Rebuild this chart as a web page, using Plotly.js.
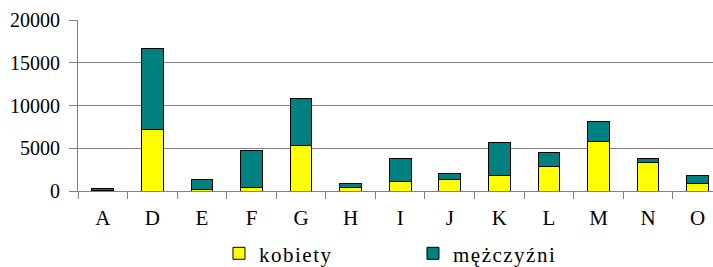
<!DOCTYPE html>
<html>
<head>
<meta charset="utf-8">
<script src="https://cdn.plot.ly/plotly-3.0.1.min.js"></script>
<style>
@font-face { font-family: "LibSerifLocal"; src: local("Liberation Serif"), local("LiberationSerif"), local("Times New Roman"); }
html, body { margin:0; padding:0; background:#fff; overflow:hidden; }
#fontwarm { position:absolute; left:0; top:0; font-family:"Liberation Serif",serif; font-size:20px; }
#chart svg text { font-family: "Liberation Serif", "LibSerifLocal", "Times New Roman", serif !important; }
#chart .legendtext { letter-spacing:1.5px; }
</style>
</head>
<body>
<div id="fontwarm">&nbsp;</div>
<div id="chart" style="width:713px;height:267px;"></div>
<script>
var categories = ["A","D","E","F","G","H","I","J","K","L","M","N","O"];
var kobiety = [50, 7200, 200, 430, 5350, 400, 1100, 1300, 1800, 2900, 5800, 3350, 900];
var mezczyzni = [200, 9500, 1170, 4250, 5450, 500, 2700, 700, 3850, 1600, 2350, 450, 950];
var yTickStep = 5000;
var yMax = 20000;
var seriesNames = ["kobiety", "m\u0119\u017Cczy\u017Ani"];

var FONT = "Liberation Serif, LibSerifLocal, serif";
var drawn = false;
function draw() {
  if (drawn) return; drawn = true;
  var traces = [
    {type:"bar", name:seriesNames[0], x:categories, y:kobiety,
     marker:{color:"#FFFF00", line:{color:"#000000", width:1}}},
    {type:"bar", name:seriesNames[1], x:categories, y:mezczyzni,
     marker:{color:"#008080", line:{color:"#000000", width:1}}}
  ];
  var layout = {
    width:713, height:267,
    margin:{l:78, r:0, t:20, b:76, autoexpand:false},
    paper_bgcolor:"#ffffff", plot_bgcolor:"#ffffff",
    barmode:"stack", bargap:0.56,
    showlegend:true,
    font:{family:FONT, size:20, color:"#000000"},
    xaxis:{type:"category", range:[-0.5, 12.31], tickson:"boundaries",
      ticks:"outside", ticklen:7, tickcolor:"#808080", tickwidth:1,
      showline:true, linecolor:"#808080", linewidth:1, showgrid:false,
      ticklabelstandoff:8, tickfont:{family:FONT, size:21, color:"#000000"}},
    yaxis:{range:[0, yMax], tick0:0, dtick:yTickStep, tickformat:"d",
      ticks:"outside", ticklen:8, tickcolor:"#808080", tickwidth:1,
      showline:true, linecolor:"#808080", linewidth:1,
      showgrid:true, gridcolor:"#808080", gridwidth:1, zeroline:false,
      ticklabelstandoff:5, tickfont:{family:FONT, size:20, color:"#000000"}},
    shapes:[{type:"line", xref:"paper", x0:0, x1:1, yref:"y", y0:10000, y1:10000,
      line:{color:"#000000", width:1}, layer:"below"}],
    legend:{orientation:"h", x:0.222, xanchor:"left", yref:"container", y:0.05, yanchor:"middle",
      font:{family:FONT, size:21, color:"#000000"}, entrywidth:149, entrywidthmode:"pixels",
      bgcolor:"rgba(0,0,0,0)", traceorder:"normal"}
  };
  Plotly.newPlot("chart", traces, layout, {staticPlot:true});
}
try {
  if (document.fonts && document.fonts.load) {
    Promise.all([
      document.fonts.load('20px "LibSerifLocal"'),
      document.fonts.load('20px "Liberation Serif"')
    ]).then(function(){ return document.fonts.ready; }).then(draw, draw);
    setTimeout(draw, 1500);
  } else { draw(); }
} catch (e) { draw(); }
</script>
</body>
</html>
